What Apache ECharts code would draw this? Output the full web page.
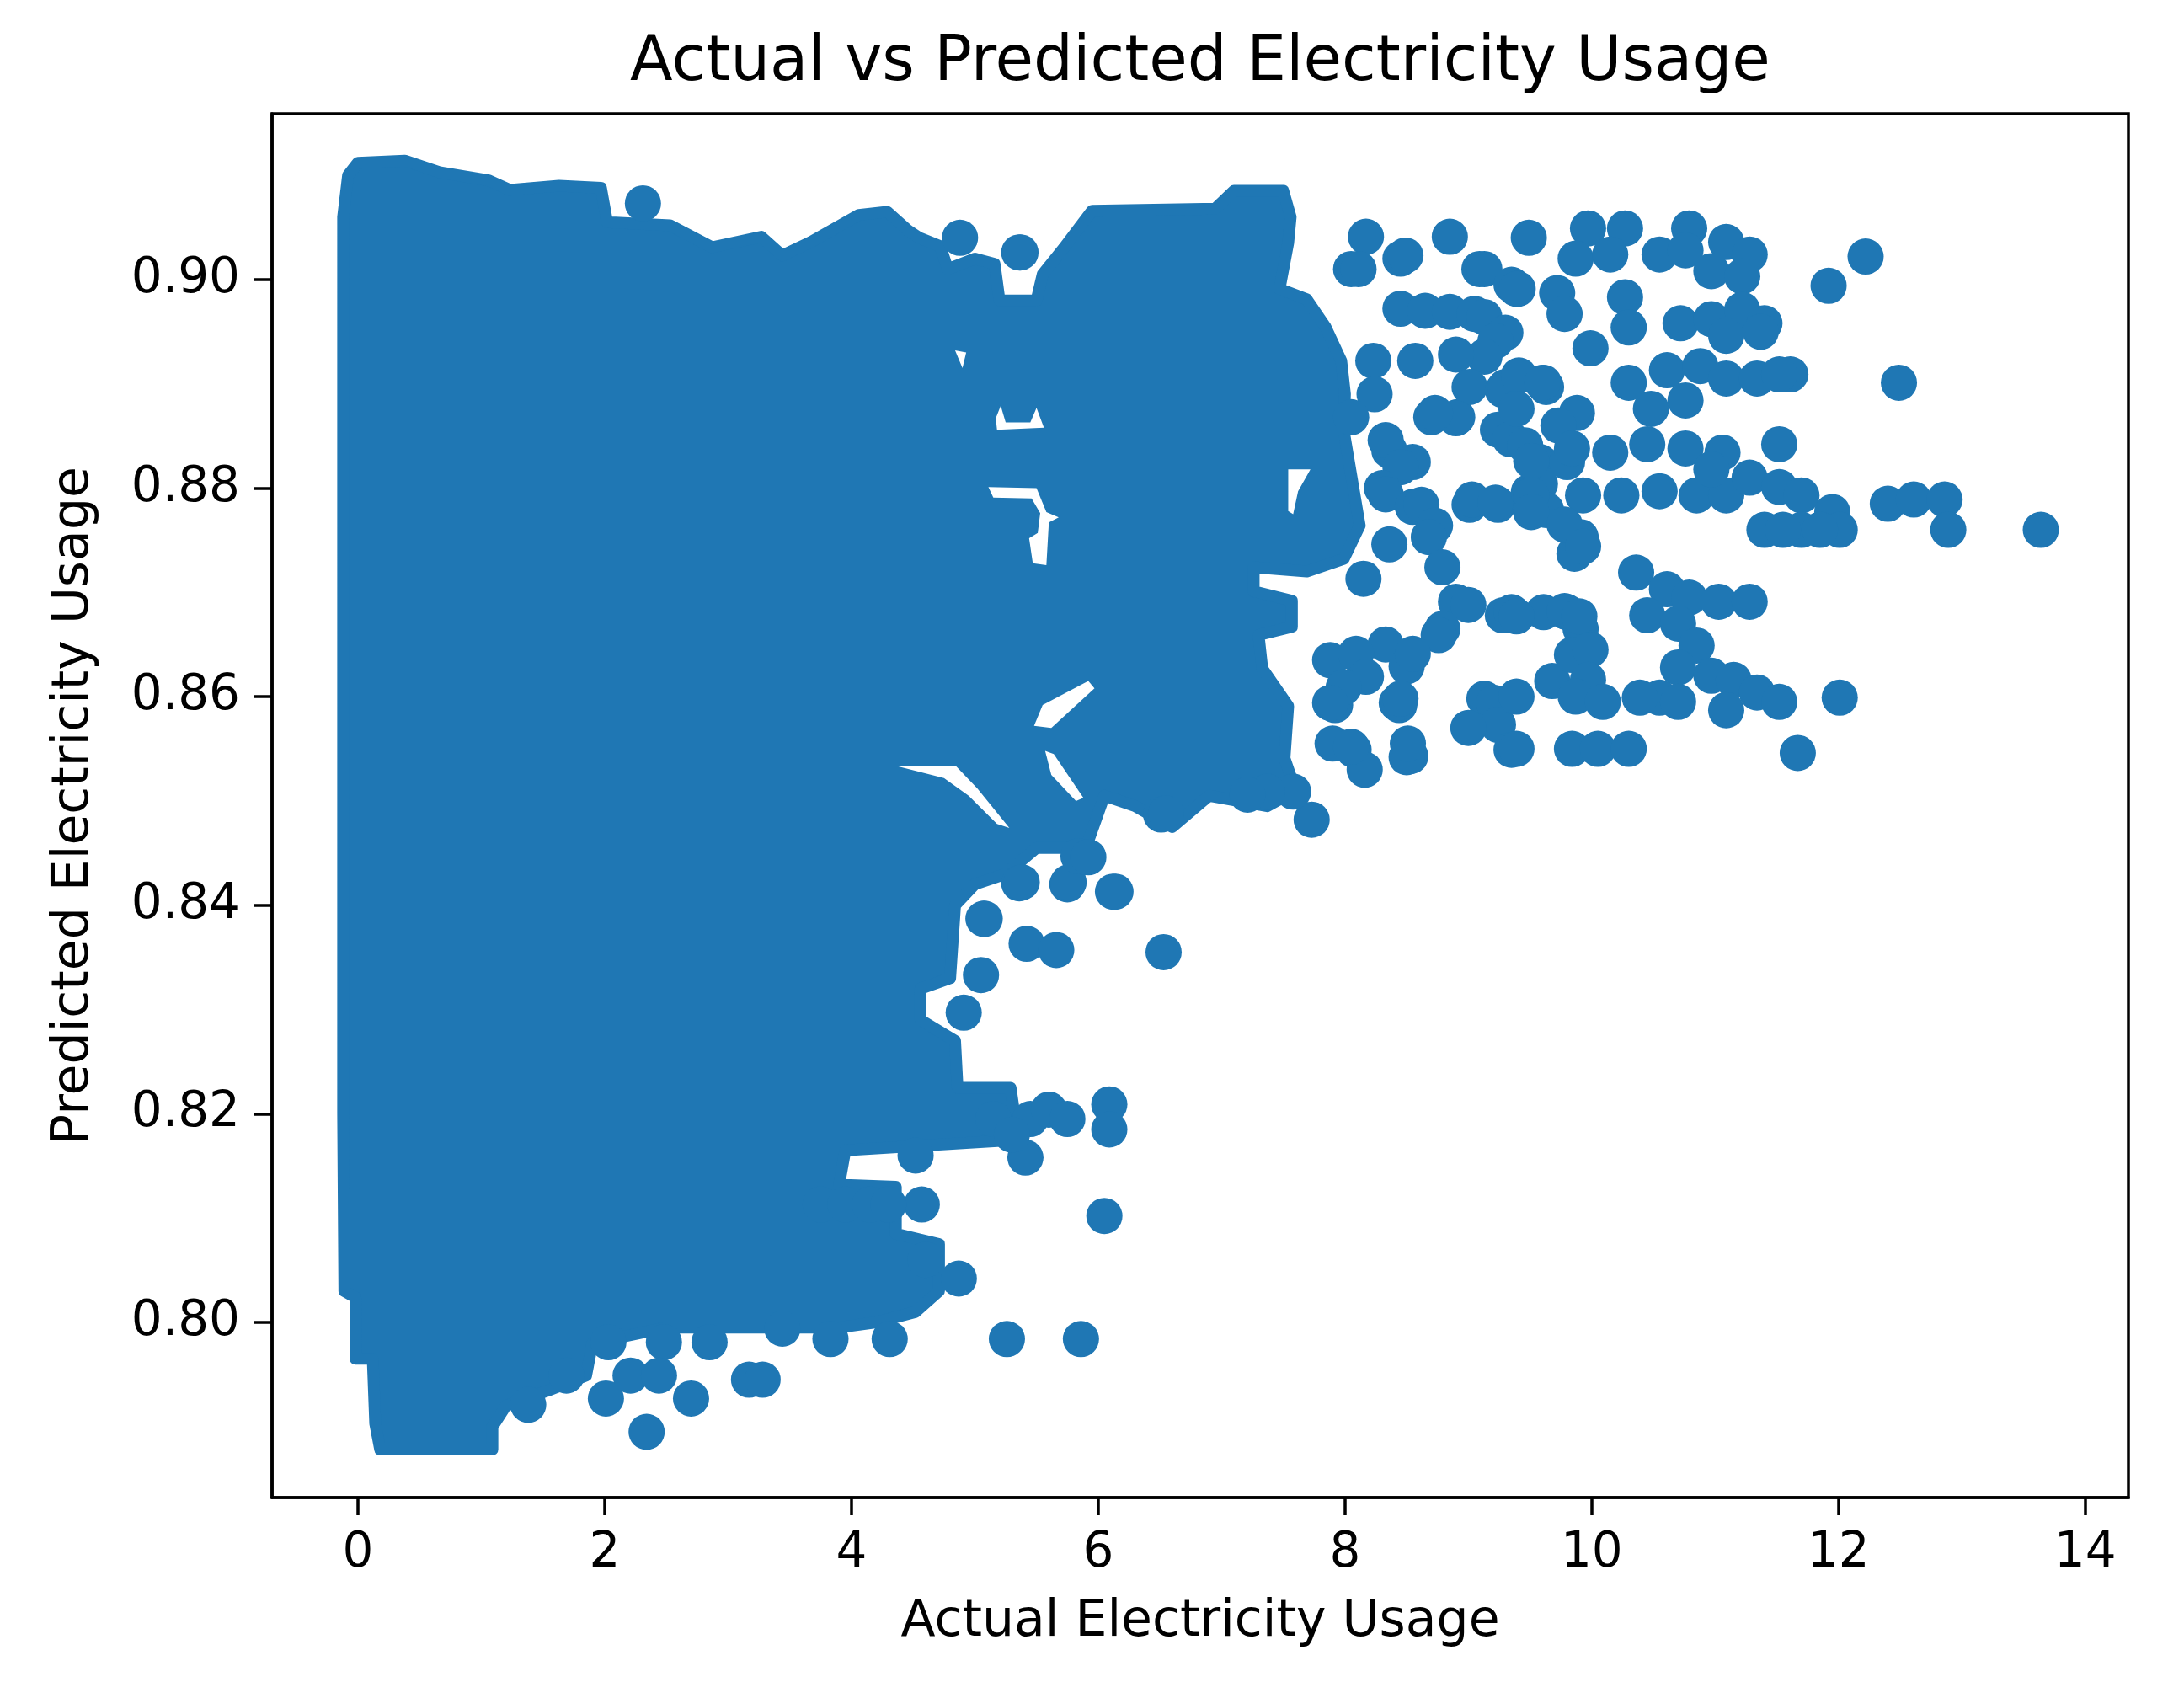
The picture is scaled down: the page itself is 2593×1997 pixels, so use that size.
<!DOCTYPE html>
<html>
<head>
<meta charset="utf-8">
<script src="https://cdn.jsdelivr.net/npm/echarts@6/dist/echarts.min.js"></script>
<style>
html,body{margin:0;padding:0;background:#fff;}
#chart{width:2593px;height:1997px;}
</style>
</head>
<body>
<div id="chart"></div>
<script>
// ---- tick labels ----
const xTicks = [0, 2, 4, 6, 8, 10, 12, 14];
const yTicks = [0.80, 0.82, 0.84, 0.86, 0.88, 0.90];

// ---- dense core of overlapping points: outline [actual, predicted] ----
const coreOutline = [
  [-0.12,0.9060],[-0.08,0.9100],[0.00,0.9112],[0.38,0.9114],[0.66,0.9103],[1.06,0.9095],[1.23,0.9086],
  [1.63,0.9090],[1.97,0.9088],[2.02,0.9055],[2.53,0.9052],[2.87,0.9031],[3.27,0.9041],[3.44,0.9023],
  [3.67,0.9036],[4.06,0.9062],[4.29,0.9065],[4.46,0.9047],[4.55,0.9040],[4.72,0.9032],[4.78,0.9010],
  [5.00,0.9020],[5.16,0.9015],[5.20,0.8980],[5.50,0.8980],[5.55,0.9005],[5.72,0.9030],[5.95,0.9066],
  [6.95,0.9068],[7.10,0.9085],[7.50,0.9085],[7.56,0.9060],[7.54,0.9035],[7.47,0.8991],[7.69,0.8981],
  [7.84,0.8955],[7.97,0.8922],[8.00,0.8890],[7.99,0.8855],[8.12,0.8764],[7.99,0.8732],[7.69,0.8720],
  [7.26,0.8724],[7.26,0.8701],[7.57,0.8692],[7.57,0.8667],[7.30,0.8659],[7.33,0.8627],[7.54,0.8591],
  [7.51,0.8541],[7.60,0.8510],[7.37,0.8495],[6.90,0.8505],[6.60,0.8475],[6.30,0.8495],[6.05,0.8505],
  [5.90,0.8455],[5.50,0.8455],[5.25,0.8430],[5.00,0.8420],[4.84,0.8400],[4.80,0.8330],[4.56,0.8320],
  [4.56,0.8290],[4.84,0.8270],[4.86,0.8225],[5.29,0.8225],[5.35,0.8175],[3.95,0.8165],[3.90,0.8132],
  [4.36,0.8130],[4.36,0.8085],[4.71,0.8075],[4.71,0.8030],[4.52,0.8010],[4.20,0.8000],[3.90,0.7995],
  [3.00,0.7995],[2.50,0.7995],[1.90,0.7980],[1.85,0.7949],[1.55,0.7935],[1.20,0.7920],[1.09,0.7900],
  [1.09,0.7878],[0.18,0.7878],[0.14,0.7903],[0.12,0.7965],[-0.02,0.7965],[-0.02,0.8024],[-0.11,0.8030],
  [-0.12,0.8200]
];

// ---- gaps inside the dense core ----
const gap1 = [[5.11,0.8801],[5.50,0.8800],[5.58,0.8777],[5.68,0.8772],[5.60,0.8767],[5.58,0.8726],
              [5.47,0.8728],[5.44,0.8752],[5.51,0.8757],[5.53,0.8776],[5.46,0.8790],[5.15,0.8791]];
const gap2 = [[5.92,0.8615],[5.97,0.8608],[5.62,0.8570],[5.48,0.8572],[5.55,0.8592]];
const gap3 = [[4.38,0.8533],[4.85,0.8533],[5.02,0.8512],[5.28,0.8474],[5.18,0.8478],[4.95,0.8505],[4.75,0.8522]];
const gap4 = [[5.57,0.8548],[5.64,0.8545],[5.88,0.8503],[5.82,0.8500],[5.62,0.8525]];
const gap5 = [[7.54,0.8818],[7.72,0.8818],[7.62,0.8797],[7.58,0.8775],[7.54,0.8778]];
const gap6 = [[5.17,0.8867],[5.21,0.8879],[5.25,0.8863],[5.45,0.8863],[5.50,0.8877],[5.56,0.8858],[5.18,0.8856]];
const gap7 = [[4.84,0.8932],[4.93,0.8930],[4.90,0.8915]];

// ---- individual points around the core ----
const topFringe = [
  [2.31,0.9073],[4.88,0.9040],[5.36,0.9026],[5.37,0.9026],[8.17,0.9041],[8.05,0.9010],[8.11,0.9010],
  [8.45,0.9020],[8.49,0.9023],[8.85,0.9041],[9.09,0.9010],[9.13,0.9010],[9.35,0.8995],[9.40,0.8991],[9.49,0.9040]
];
const midFringe = [
  [7.92,0.8592],[8.44,0.8592],[8.07,0.8549],[8.16,0.8530],[8.53,0.8543],[7.73,0.8482],[7.58,0.8509],
  [7.37,0.8509],[6.51,0.8487],[6.55,0.8488],[7.21,0.8506],[6.12,0.8413],[6.14,0.8413],[6.53,0.8355],
  [5.36,0.8421],[5.38,0.8422],[5.75,0.8420],[5.76,0.8422],[5.07,0.8387],[5.08,0.8387],[5.42,0.8363],
  [5.66,0.8357],[5.05,0.8333],[5.84,0.8447],[5.92,0.8446],[4.91,0.8297]
];
const lowFringe = [
  [5.45,0.8195],[5.60,0.8204],[5.75,0.8195],[6.09,0.8209],[6.09,0.8185],[5.41,0.8158],[6.05,0.8102],
  [4.57,0.8113],[3.75,0.8113],[3.95,0.8113],[4.15,0.8113],[4.30,0.8113],[4.87,0.8042],[4.60,0.8060],
  [5.26,0.7984],[5.86,0.7984],[4.31,0.7984],[3.83,0.7984],[3.44,0.7994],[2.85,0.7981],[2.48,0.7981],
  [2.03,0.7981],[3.17,0.7945],[3.28,0.7945],[2.34,0.7895],[2.70,0.7927],[2.01,0.7927],[2.21,0.7949],
  [2.44,0.7949],[1.38,0.7921],[1.69,0.7949],[4.52,0.8160],[5.15,0.8195],[5.30,0.8180]
];
const rightFringeA = [
  [8.45,0.8972],[8.65,0.8970],[8.85,0.8969],[9.05,0.8967],[9.13,0.8964],[9.30,0.8949],[9.22,0.8941],
  [9.13,0.8926],[8.23,0.8922],[8.57,0.8922],[8.24,0.8890],[8.05,0.8868],[8.70,0.8868],[8.91,0.8868],
  [8.90,0.8928],[9.01,0.8897],[8.90,0.8867],[8.73,0.8872],[9.28,0.8894],[9.30,0.8897],[9.41,0.8908],
  [9.61,0.8901],[9.63,0.8897],[9.24,0.8856],[9.34,0.8847],[9.46,0.8841],[9.58,0.8825],[8.36,0.8836],
  [8.55,0.8825],[8.33,0.8846],[8.45,0.8820],[8.30,0.8800],[8.33,0.8794],[8.55,0.8782],[8.62,0.8784],
  [8.73,0.8764],[8.68,0.8753],[8.79,0.8724],[8.36,0.8746],[9.01,0.8784],[9.24,0.8784],[9.03,0.8789],
  [9.22,0.8786],[9.49,0.8796],[9.58,0.8804],[9.80,0.8825],[9.63,0.8779],[9.91,0.8753],[9.86,0.8737],
  [8.15,0.8713],[8.90,0.8691],[9.00,0.8688],[9.28,0.8678],[9.35,0.8681],[9.80,0.8681],[9.91,0.8665],
  [8.79,0.8665],[8.76,0.8659],[8.33,0.8650],[8.50,0.8629],[8.55,0.8641],[7.88,0.8635],[8.09,0.8641],
  [8.17,0.8619],[7.99,0.8609],[7.88,0.8594],[8.42,0.8594],[8.45,0.8598],[9.13,0.8598],[9.21,0.8594],
  [9.24,0.8573],[9.00,0.8570],[7.90,0.8555],[8.05,0.8552],[8.50,0.8542],[8.51,0.8555],[9.35,0.8549],
  [9.39,0.8550],[9.61,0.8681],[9.68,0.8615]
];
const rightFringeB = [
  [9.97,0.9049],[10.27,0.9049],[9.87,0.9020],[10.15,0.9024],[10.79,0.9049],[11.09,0.9036],[11.28,0.9024],
  [10.55,0.9024],[10.76,0.9028],[10.97,0.9008],[11.22,0.9003],[12.22,0.9022],[11.92,0.8994],[9.39,0.8991],
  [9.72,0.8987],[9.78,0.8967],[9.99,0.8934],[10.27,0.8983],[10.30,0.8954],[10.72,0.8958],[10.97,0.8962],
  [11.22,0.8971],[11.40,0.8958],[11.09,0.8946],[11.37,0.8950],[11.61,0.8909],[12.49,0.8901],[9.60,0.8901],
  [9.39,0.8876],[9.88,0.8872],[9.73,0.8860],[10.30,0.8901],[10.61,0.8913],[10.88,0.8917],[11.09,0.8905],
  [11.34,0.8905],[11.52,0.8909],[10.48,0.8876],[10.76,0.8884],[11.52,0.8842],[9.51,0.8826],[9.84,0.8838],
  [10.15,0.8834],[10.45,0.8842],[10.76,0.8838],[11.06,0.8834],[9.93,0.8793],[10.24,0.8793],[10.55,0.8797],
  [10.85,0.8793],[11.09,0.8793],[10.97,0.8818],[11.28,0.8810],[11.52,0.8801],[11.70,0.8793],[11.95,0.8777],
  [12.01,0.8760],[11.40,0.8760],[11.70,0.8760],[11.55,0.8760],[11.85,0.8760],[12.40,0.8785],[12.61,0.8789],
  [12.86,0.8789],[12.89,0.8760],[13.64,0.8760],[9.51,0.8793],[9.51,0.8777],[9.78,0.8765],[9.93,0.8744]
];
const rightFringeC = [
  [10.36,0.8719],[10.61,0.8703],[10.45,0.8678],[10.79,0.8695],[11.03,0.8691],[11.28,0.8691],[10.70,0.8670],
  [10.85,0.8649],[10.70,0.8628],[10.97,0.8620],[11.15,0.8616],[11.34,0.8604],[11.52,0.8595],[11.09,0.8587],
  [10.55,0.8599],[10.39,0.8599],[10.70,0.8595],[12.01,0.8599],[11.67,0.8546],[9.78,0.8682],[9.90,0.8677],
  [9.84,0.8640],[9.99,0.8645],[9.97,0.8616],[9.87,0.8600],[10.09,0.8595],[9.39,0.8677],[9.84,0.8550],
  [10.05,0.8550],[10.30,0.8550],[9.39,0.8600]
];

const BLUE = '#1f77b4';
const FONT = 'DejaVu Sans';
const chart = echarts.init(document.getElementById('chart'), null, {renderer: 'canvas'});

function polySeries(points, fill, z, strokeW) {
  return {
    type: 'custom',
    silent: true,
    z: z,
    clip: true,
    data: [[points[0][0], points[0][1]]],
    renderItem: function (params, api) {
      return {
        type: 'polygon',
        shape: {points: points.map(function (p) { return api.coord(p); })},
        style: {fill: fill, stroke: fill, lineWidth: strokeW, lineJoin: 'round'}
      };
    }
  };
}

const allPoints = [].concat(topFringe, midFringe, lowFringe, rightFringeA, rightFringeB, rightFringeC);

chart.setOption({
  animation: false,
  backgroundColor: '#ffffff',
  grid: {left: 323, top: 135, width: 2204, height: 1643, show: true, borderColor: '#000', borderWidth: 3.5, backgroundColor: 'transparent'},
  graphic: [{
    type: 'text', x: 1425, y: 76, z: 100,
    style: {text: 'Actual vs Predicted Electricity Usage', fontSize: 74, fontFamily: FONT, fill: '#000',
            textAlign: 'center', textVerticalAlign: 'middle'}
  }],
  xAxis: {
    type: 'value', min: -0.696, max: 14.35,
    name: 'Actual Electricity Usage', nameLocation: 'middle', nameGap: 118,
    nameTextStyle: {fontSize: 60, fontFamily: FONT, color: '#000'},
    axisLine: {show: true, onZero: false, lineStyle: {color: '#000', width: 3.5}},
    axisTick: {show: true, length: 21, lineStyle: {color: '#000', width: 3.5}, customValues: xTicks},
    axisLabel: {fontSize: 58, fontFamily: FONT, color: '#000', margin: 38, customValues: xTicks,
                formatter: function (v) { return String(v); }},
    splitLine: {show: false}
  },
  yAxis: {
    type: 'value', min: 0.7832, max: 0.9159,
    name: 'Predicted Electricity Usage', nameLocation: 'middle', nameGap: 205,
    nameTextStyle: {fontSize: 60, fontFamily: FONT, color: '#000'},
    axisLine: {show: true, onZero: false, lineStyle: {color: '#000', width: 3.5}},
    axisTick: {show: true, length: 21, lineStyle: {color: '#000', width: 3.5}, customValues: yTicks},
    axisLabel: {fontSize: 58, fontFamily: FONT, color: '#000', margin: 38, customValues: yTicks,
                formatter: function (v) { return v.toFixed(2); }},
    splitLine: {show: false}
  },
  series: [
    polySeries(coreOutline, BLUE, 1, 14),
    polySeries(gap1, '#ffffff', 2, 0),
    polySeries(gap2, '#ffffff', 2, 0),
    polySeries(gap3, '#ffffff', 2, 0),
    polySeries(gap4, '#ffffff', 2, 0),
    polySeries(gap5, '#ffffff', 2, 0),
    polySeries(gap6, '#ffffff', 2, 0),
    polySeries(gap7, '#ffffff', 2, 0),
    {
      type: 'scatter', z: 3, silent: true,
      symbol: 'circle', symbolSize: 43,
      itemStyle: {color: BLUE, opacity: 1},
      data: allPoints
    }
  ]
});
</script>
</body>
</html>
